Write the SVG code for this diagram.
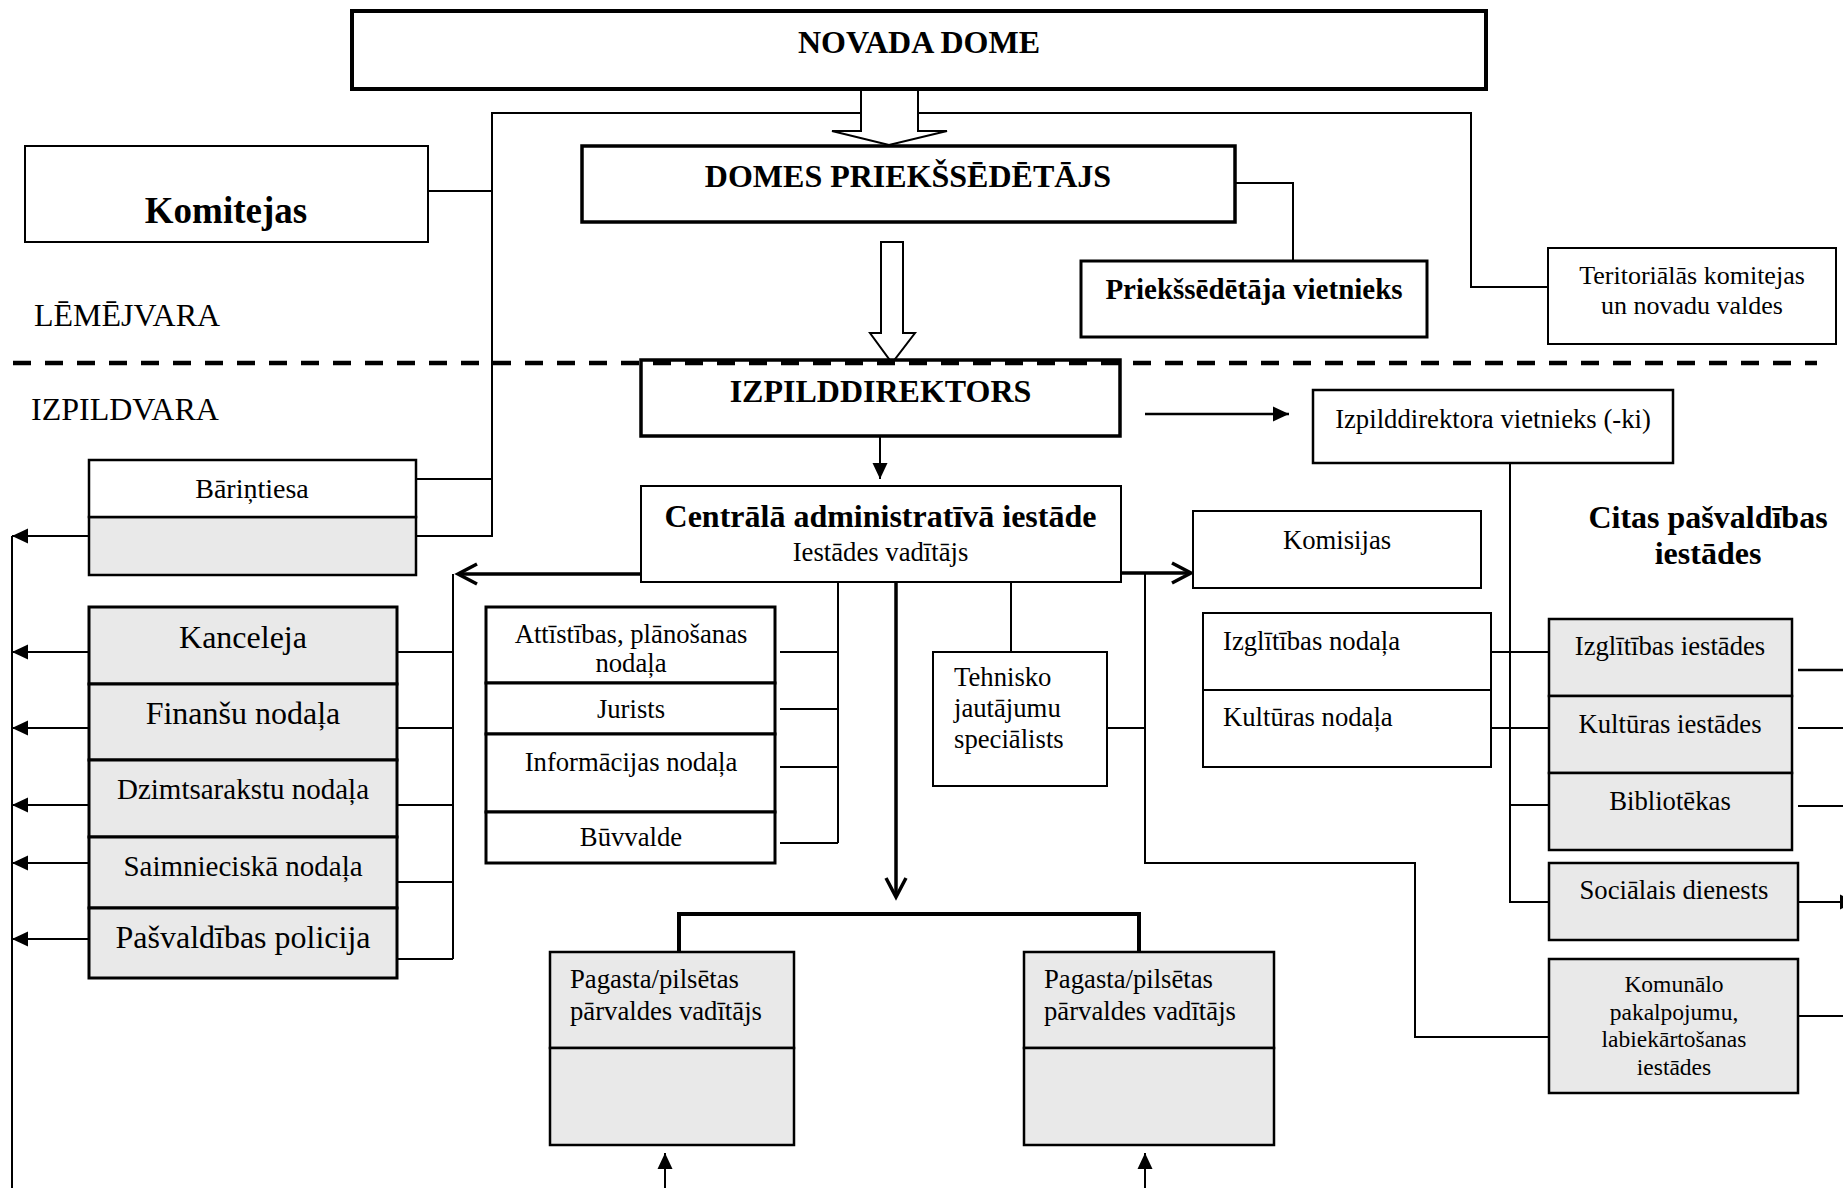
<svg xmlns="http://www.w3.org/2000/svg" width="1843" height="1188" viewBox="0 0 1843 1188">
<style>
text{font-family:"Liberation Serif","Times New Roman",serif;fill:#000}
.b{font-weight:bold}
.f32{font-size:32px}
.f27{font-size:26.7px}
.f29{font-size:29px}
.f24{font-size:23.5px}
.mid{text-anchor:middle}
.box{fill:#fff;stroke:#000}
.gray{fill:#e9e9e9;stroke:#000}
.w2{stroke-width:2}
.w25{stroke-width:2.5}
.w3{stroke-width:3}
.w35{stroke-width:3.5}
.w4{stroke-width:4}
.ln{fill:none;stroke:#000;stroke-width:2}
.ln25{fill:none;stroke:#000;stroke-width:2.5}
.ln4{fill:none;stroke:#000;stroke-width:4}
.thick{fill:none;stroke:#000;stroke-width:3.5}
.hollow{fill:#fff;stroke:#000;stroke-width:2;stroke-linejoin:miter}
.dash{fill:none;stroke:#000;stroke-width:4.5;stroke-dasharray:18 14}
</style>
<defs>
<marker id="tri" markerUnits="userSpaceOnUse" markerWidth="16" markerHeight="15" refX="16" refY="7.5" orient="auto" overflow="visible">
<path d="M0,0 L16,7.5 L0,15 z" fill="#000"/>
</marker>
<marker id="chev" markerUnits="userSpaceOnUse" markerWidth="19" markerHeight="20" refX="19" refY="10" orient="auto" overflow="visible">
<path d="M0,0 L19,10 L0,20" fill="none" stroke="#000" stroke-width="3.5"/>
</marker>
</defs>

<g id="connectors">
<path class="ln" d="M416,536 H492 V113 H1471 V287 H1548"/>
<path class="ln" d="M416,479 H492"/>
<path class="ln" d="M428,191 H492"/>
<path class="ln" d="M1235,183 H1293 V261"/>
<path class="ln" d="M880,436 V479" marker-end="url(#tri)"/>
<path class="ln25" d="M1145,414 H1289" marker-end="url(#tri)"/>
<path class="ln" d="M1510,463 V902 H1549"/>
<path class="ln" d="M1491,652 H1549"/>
<path class="ln" d="M1491,728 H1549"/>
<path class="ln" d="M1510,805 H1549"/>
<path class="ln25" d="M1798,670 H1843"/>
<path class="ln" d="M1798,728 H1843"/>
<path class="ln" d="M1798,806 H1843"/>
<path class="ln" d="M1798,902 H1856" marker-end="url(#tri)"/>
<path class="ln" d="M1798,1016 H1843"/>
<path class="thick" d="M641,574 H458" marker-end="url(#chev)"/>
<path class="ln" d="M453,574 V959"/>
<path class="ln" d="M397,652 H453"/>
<path class="ln" d="M397,728 H453"/>
<path class="ln" d="M397,805 H453"/>
<path class="ln" d="M397,882 H453"/>
<path class="ln" d="M397,959 H453"/>
<path class="ln" d="M12,536 V1188"/>
<path class="ln" d="M89,536 H12" marker-end="url(#tri)"/>
<path class="ln" d="M89,652 H12" marker-end="url(#tri)"/>
<path class="ln" d="M89,728 H12" marker-end="url(#tri)"/>
<path class="ln" d="M89,805 H12" marker-end="url(#tri)"/>
<path class="ln" d="M89,863 H12" marker-end="url(#tri)"/>
<path class="ln" d="M89,939 H12" marker-end="url(#tri)"/>
<path class="ln" d="M838,582 V843"/>
<path class="ln" d="M780,652 H838"/>
<path class="ln" d="M780,709 H838"/>
<path class="ln" d="M780,767 H838"/>
<path class="ln" d="M780,843 H838"/>
<path class="thick" d="M896,582 V897" marker-end="url(#chev)"/>
<path class="ln4" d="M679,952 V914 H1139 V952"/>
<path class="ln" d="M665,1188 V1153" marker-end="url(#tri)"/>
<path class="ln" d="M1145,1188 V1153" marker-end="url(#tri)"/>
<path class="ln" d="M1011,582 V652"/>
<path class="thick" d="M1121,573 H1191" marker-end="url(#chev)"/>
<path class="ln" d="M1145,573 V863 H1415 V1037 H1549"/>
<path class="ln" d="M1107,728 H1145"/>
<polygon class="hollow" points="861,89 918,89 918,131 947,131 889,145 832,131 861,131"/>
<polygon class="hollow" points="881,242 903,242 903,333 915,333 892,363 870,333 881,333"/>
</g>

<g id="labels">
<text class="f32" x="34" y="326">LĒMĒJVARA</text>
<text class="f32" x="31" y="420">IZPILDVARA</text>
<text class="f32 b mid" x="1708" y="528">Citas pašvaldības</text>
<text class="f32 b mid" x="1708" y="564">iestādes</text>
</g>

<g id="novada-dome">
<rect class="box w4" x="352" y="11" width="1134" height="78"/>
<text class="f32 b mid" x="919" y="53">NOVADA DOME</text>
</g>

<g id="komitejas">
<rect class="box w2" x="25" y="146" width="403" height="96"/>
<text class="b mid" style="font-size:37px" x="226" y="223">Komitejas</text>
</g>

<g id="domes-priekssedetajs">
<rect class="box w35" x="582" y="146" width="653" height="76"/>
<text class="f32 b mid" x="908" y="187">DOMES PRIEKŠSĒDĒTĀJS</text>
</g>

<g id="priekssedetaja-vietnieks">
<rect class="box w3" x="1081" y="261" width="346" height="76"/>
<text class="f29 b mid" x="1254" y="299">Priekšsēdētāja vietnieks</text>
</g>

<g id="teritorialas-komitejas">
<rect class="box w2" x="1548" y="248" width="288" height="96"/>
<text class="mid" style="font-size:26px" x="1692" y="284">Teritoriālās komitejas</text>
<text class="mid" style="font-size:26px" x="1692" y="314">un novadu valdes</text>
</g>

<g id="dashed-divider">
<path class="dash" d="M13,363 H1817"/>
</g>

<g id="izpilddirektors">
<rect class="w35" x="641" y="360" width="479" height="76" style="fill:none;stroke:#000"/>
<text class="f32 b mid" x="880.5" y="402">IZPILDDIREKTORS</text>
</g>

<g id="izpilddirektora-vietnieks">
<rect class="box w25" x="1313" y="390" width="360" height="73"/>
<text class="f27 mid" x="1493" y="428">Izpilddirektora vietnieks (-ki)</text>
</g>

<g id="barintiesa">
<rect class="gray w25" x="89" y="517" width="327" height="58"/>
<rect class="box w25" x="89" y="460" width="327" height="57"/>
<text class="mid" style="font-size:28px" x="252" y="498">Bāriņtiesa</text>
</g>

<g id="centrala-iestade">
<rect class="box w2" x="641" y="486" width="480" height="96"/>
<text class="f32 b mid" x="880.5" y="527">Centrālā administratīvā iestāde</text>
<text class="f27 mid" x="880.5" y="561">Iestādes vadītājs</text>
</g>

<g id="kanceleja">
<rect class="gray w3" x="89" y="607" width="308" height="77"/>
<text class="f32 mid" x="243" y="648">Kanceleja</text>
</g>
<g id="finansu-nodala">
<rect class="gray w3" x="89" y="684" width="308" height="76"/>
<text class="f32 mid" x="243" y="724">Finanšu nodaļa</text>
</g>
<g id="dzimtsarakstu-nodala">
<rect class="gray w3" x="89" y="760" width="308" height="77"/>
<text class="f29 mid" x="243" y="799">Dzimtsarakstu nodaļa</text>
</g>
<g id="saimnieciska-nodala">
<rect class="gray w3" x="89" y="837" width="308" height="71"/>
<text class="f29 mid" x="243" y="876">Saimnieciskā nodaļa</text>
</g>
<g id="pasvaldibas-policija">
<rect class="gray w3" x="89" y="908" width="308" height="70"/>
<text class="f32 mid" x="243" y="948">Pašvaldības policija</text>
</g>

<g id="attistibas-nodala">
<rect class="box w3" x="486" y="607" width="289" height="76"/>
<text class="f27 mid" x="631" y="643">Attīstības, plānošanas</text>
<text class="f27 mid" x="631" y="672">nodaļa</text>
</g>
<g id="jurists">
<rect class="box w3" x="486" y="683" width="289" height="51"/>
<text class="f27 mid" x="631" y="718">Jurists</text>
</g>
<g id="informacijas-nodala">
<rect class="box w3" x="486" y="734" width="289" height="78"/>
<text class="f27 mid" x="631" y="771">Informācijas nodaļa</text>
</g>
<g id="buvvalde">
<rect class="box w3" x="486" y="812" width="289" height="51"/>
<text class="f27 mid" x="631" y="846">Būvvalde</text>
</g>

<g id="tehnisko-specialists">
<rect class="box w2" x="933" y="652" width="174" height="134"/>
<text class="f27" x="954" y="686">Tehnisko</text>
<text class="f27" x="954" y="717">jautājumu</text>
<text class="f27" x="954" y="748">speciālists</text>
</g>

<g id="komisijas">
<rect class="box w2" x="1193" y="511" width="288" height="77"/>
<text class="f27 mid" x="1337" y="549">Komisijas</text>
</g>

<g id="izglitibas-nodala">
<rect class="box w2" x="1203" y="613" width="288" height="77"/>
<text class="f27" x="1223" y="650">Izglītības nodaļa</text>
</g>
<g id="kulturas-nodala">
<rect class="box w2" x="1203" y="690" width="288" height="77"/>
<text class="f27" x="1223" y="726">Kultūras nodaļa</text>
</g>

<g id="izglitibas-iestades">
<rect class="gray w25" x="1549" y="619" width="243" height="77"/>
<text class="f27 mid" x="1670" y="655">Izglītības iestādes</text>
</g>
<g id="kulturas-iestades">
<rect class="gray w25" x="1549" y="696" width="243" height="77"/>
<text class="f27 mid" x="1670" y="733">Kultūras iestādes</text>
</g>
<g id="bibliotekas">
<rect class="gray w25" x="1549" y="773" width="243" height="77"/>
<text class="f27 mid" x="1670" y="810">Bibliotēkas</text>
</g>
<g id="socialais-dienests">
<rect class="gray w25" x="1549" y="863" width="249" height="77"/>
<text class="f27 mid" x="1674" y="899">Sociālais dienests</text>
</g>
<g id="komunalo-iestades">
<rect class="gray w25" x="1549" y="959" width="249" height="134"/>
<text class="f24 mid" x="1674" y="992">Komunālo</text>
<text class="f24 mid" x="1674" y="1020">pakalpojumu,</text>
<text class="f24 mid" x="1674" y="1047">labiekārtošanas</text>
<text class="f24 mid" x="1674" y="1075">iestādes</text>
</g>

<g id="pagasta-parvalde-1">
<rect class="gray w25" x="550" y="952" width="244" height="96"/>
<rect class="gray w25" x="550" y="1048" width="244" height="97"/>
<text class="f27" x="570" y="988">Pagasta/pilsētas</text>
<text class="f27" x="570" y="1020">pārvaldes vadītājs</text>
</g>
<g id="pagasta-parvalde-2">
<rect class="gray w25" x="1024" y="952" width="250" height="96"/>
<rect class="gray w25" x="1024" y="1048" width="250" height="97"/>
<text class="f27" x="1044" y="988">Pagasta/pilsētas</text>
<text class="f27" x="1044" y="1020">pārvaldes vadītājs</text>
</g>
</svg>
